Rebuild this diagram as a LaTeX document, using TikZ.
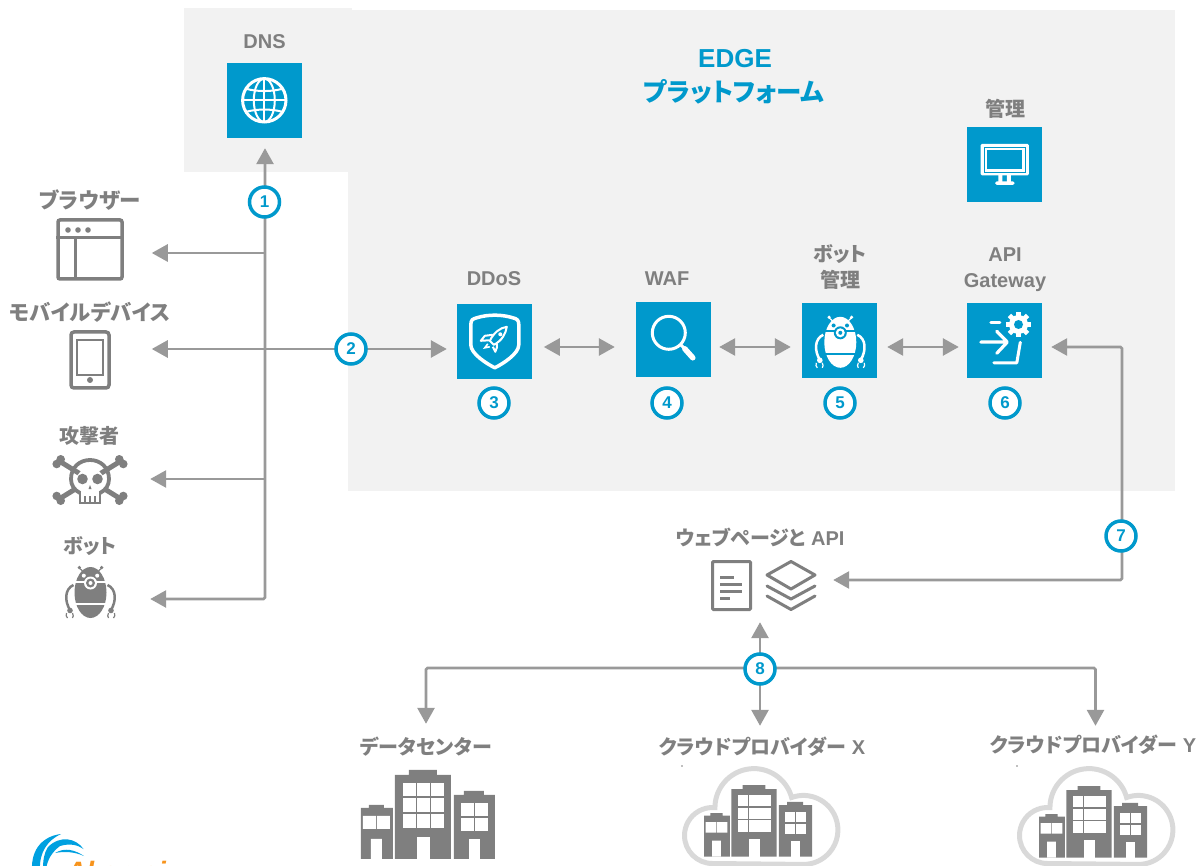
\documentclass[tikz,border=0pt]{standalone}
\usepackage{fontspec}
\setmainfont{Liberation Sans}
\newfontfamily\cjk[RawFeature=+palt]{Noto Sans CJK JP}
\usetikzlibrary{arrows.meta}
\definecolor{boxblue}{HTML}{0099CC}
\definecolor{ink}{HTML}{7F7F7F}
\definecolor{flowgrey}{HTML}{999999}
\definecolor{panelgrey}{HTML}{F2F2F2}
\definecolor{cloudgrey}{HTML}{D9D9D9}
\definecolor{logoblue}{HTML}{00A0E0}
\definecolor{logoorange}{HTML}{F7941D}
\tikzset{
  tip/.tip={Triangle[length=16pt,width=17pt]},
  flow/.style={draw=flowgrey,line width=2.8pt,-tip},
  bothways/.style={draw=flowgrey,line width=2.8pt,tip-tip},
  bluebox/.style={fill=boxblue,minimum size=75pt,inner sep=0pt},
  slot/.style 2 args={minimum width=#1,minimum height=#2,inner sep=0pt},
  numdot/.style={circle,draw=boxblue,fill=white,line width=3.5pt,minimum size=30pt,inner sep=0pt,
    text=boxblue,font=\bfseries\fontsize{17}{17}\selectfont},
  lbl/.style={text=ink,inner sep=0pt,align=center,font=\bfseries\fontsize{20}{26}\selectfont},
  jlbl/.style={lbl,font=\cjk\bfseries\fontsize{#1}{26}\selectfont},
  jlbl/.default=20,
  pics/towers/.style={code={
    \fill[ink] (0,38) -- (8,38) -- (8,35) -- (23,35) -- (23,38) -- (32,38) -- (32,89) -- (0,89) -- cycle;
    \fill[ink] (34,5) -- (48,5) -- (48,0) -- (76,0) -- (76,5) -- (90,5) -- (90,89) -- (34,89) -- cycle;
    \fill[ink] (93,25) -- (103,25) -- (103,21) -- (123,21) -- (123,25) -- (134,25) -- (134,89) -- (93,89) -- cycle;
    \fill[white] (2,46) rectangle (15,59) (16,46) rectangle (29,59) (10,69) rectangle (21,89);
    \foreach \wx in {42,56,70} \foreach \wy/\wh in {13/13,28/14,44/14}
      \fill[white] (\wx,\wy) rectangle ++(13,\wh);
    \fill[white] (56,67) rectangle (69,89);
    \foreach \wx in {100,114} \foreach \wy in {33,48}
      \fill[white] (\wx,\wy) rectangle ++(13,13);
    \fill[white] (108,69) rectangle (119,89);
  }},
  pics/cloudline/.style={code={
    \draw[cloudgrey,line width=5pt] (28,95) arc[start angle=90,end angle=275,radius=28]
      arc[start angle=180,end angle=345,radius=39]
      arc[start angle=250,end angle=450,radius=34.5] -- cycle;
  }},
  pics/botglyph/.style 2 args={code={
    \fill[#1] (38.5,39.5) ellipse [x radius=16,y radius=25.5];
    \draw[#2,line width=2pt] (21,28.5) -- (56,28.5);
    \draw[#2,line width=2.5pt] (21,51) -- (56,51);
    \foreach \sx in {-1,1} {
      \begin{scope}[shift={(38.5,0)},xscale=\sx]
        \fill[#2] (6.7,22.7) circle (2);
        \draw[#1,line width=1.2pt] (8,18) -- (11.2,15);
        \fill[#1] (11.2,14.5) circle (1.8);
        \draw[#1,line width=2.5pt] (17,32) .. controls (26,36) and (26,48) .. (20.5,57);
        \fill[#1] (20.5,57.5) circle (2.8);
        \draw[#1,line width=1.2pt] (24,60) .. controls (25,62) and (24,64) .. (23,65);
        \draw[#1,line width=1.2pt] (18,60) .. controls (17,62) and (17,64) .. (18,65);
      \end{scope}
    }
    \fill[#2] (38.5,30) circle (6.5);
    \fill[#1] (38.5,30) circle (4.5);
    \fill[#2] (38.5,30) circle (2);
  }},
  pics/globeglyph/.style={code={
    \draw[white,line width=3pt] (37.5,37.5) circle (21.7);
    \draw[white,line width=2pt] (37.5,37.5) ellipse [x radius=10.5,y radius=21.7];
    \draw[white,line width=2pt] (37.5,16) -- (37.5,59) (15.8,37.5) -- (59.2,37.5);
    \draw[white,line width=2pt] (19.5,26) .. controls (30,29) and (45,29) .. (55.5,26);
    \draw[white,line width=2pt] (19.5,49) .. controls (30,46) and (45,46) .. (55.5,49);
  }},
  pics/monitorglyph/.style={code={
    \fill[white,rounded corners=1.5pt] (13.7,17) rectangle (62,48.7);
    \draw[boxblue,line width=0.6pt] (17.4,20.3) rectangle (58,45.7);
    \fill[boxblue] (20.3,23.7) rectangle (55.3,42.3);
    \fill[white] (31.5,48) rectangle (35.5,55) (40,48) rectangle (44,55);
    \fill[white,rounded corners=1.5pt] (28.3,54.7) rectangle (47.7,58);
  }},
  pics/shieldglyph/.style={code={
    \draw[white,line width=3.5pt,line join=round] (14,21) .. controls (14,16) and (16,15) .. (20,14)
      .. controls (31,10.5) and (45,10.5) .. (56,14) .. controls (60,15) and (62,16) .. (62,21)
      -- (62,41) .. controls (62,50) and (46,60) .. (38,64) .. controls (30,60) and (14,50) .. (14,41) -- cycle;
    \draw[white,line width=2pt,line join=round] (50,23) .. controls (43,24) and (37,29) .. (33,37) -- (37,41)
      .. controls (45,37) and (49,30) .. (50,23) -- cycle;
    \draw[white,line width=2pt,line join=round] (36,31) -- (28,32) -- (24,37) -- (32,36.5);
    \draw[white,line width=2pt,line join=round] (40,39.5) -- (40,44) -- (38.5,48) -- (36,43);
    \draw[white,line width=1.6pt] (31,40) -- (28,44) -- (33,43);
    \fill[white] (43.5,30.5) circle (2);
  }},
  pics/lensglyph/.style={code={
    \draw[white,line width=3pt] (33,31) circle (16.5);
    \draw[white,line width=3pt] (44.7,42.7) -- (50,48);
    \draw[white,line width=5.5pt,line cap=round] (49,47) -- (57,56);
  }},
  pics/gateglyph/.style={code={
    \foreach \a in {0,45,...,315}
      \fill[white,shift={(51.7,21.7)},rotate=\a] (-2.4,-12.8) rectangle (2.4,-6);
    \fill[white] (51.7,21.7) circle (9.5);
    \fill[boxblue] (51.7,21.7) circle (4.5);
    \draw[white,line width=3.2pt,line cap=round,line join=round] (14,39.3) -- (39.5,39.3) (30,28.5) -- (40.5,39.3) -- (30,50.5);
    \draw[white,line width=3pt,line cap=round] (24,19.3) -- (33,19.3);
    \draw[white,line width=3pt,line cap=round,line join=round] (53.5,39.5) -- (50,60) -- (27,60);
  }},
  pics/skullglyph/.style={code={
    \foreach \sx in {-1,1} \foreach \sy in {-1,1} {
      \begin{scope}[xscale=\sx,yscale=\sy]
        \draw[ink,line width=5pt] (0,0) -- (-30,-18.5);
        \fill[ink] (-29.3,-20.7) circle (4.3) (-33.3,-16) circle (4.3);
      \end{scope}
    }
    \fill[white] (-18,2) -- (-11,13) -- (-11,23) -- (11,23) -- (11,13) -- (18,2) -- (0,-20) -- cycle;
    \draw[ink,line width=3.8pt] (-10,13) .. controls (-16,10) and (-19,5) .. (-19,-1)
      .. controls (-19,-13) and (-10,-20) .. (0,-20) .. controls (10,-20) and (19,-13) .. (19,-1)
      .. controls (19,5) and (16,10) .. (10,13);
    \fill[ink] (-7.5,-1) circle (5.3) (7.5,-1) circle (5.3);
    \fill[ink] (0,5) -- (-1.5,9) -- (1.5,9) -- cycle;
    \draw[ink,line width=2.5pt] (-10,12) -- (-10,23) -- (10,23) -- (10,12);
    \foreach \tx in {-5,0,5} \draw[ink,line width=2pt] (\tx,16) -- (\tx,23);
  }}
}
\begin{document}
\begin{tikzpicture}[x=1pt,y=-1pt]
\useasboundingbox (0,0) rectangle (1197,866);
% panels
\fill[panelgrey] (348,10) rectangle (1175,491);
\fill[panelgrey] (184,8) rectangle (352,172);
\node[text=boxblue,inner sep=0pt,font=\bfseries\fontsize{26}{26}\selectfont] (edgelbl) at (735,59) {EDGE};
\node[text=boxblue,inner sep=0pt,font=\cjk\bfseries\fontsize{25.5}{26}\selectfont] (platlbl) at (734,92) {プラットフォーム};
% blue boxes
\node[bluebox] (dns) at (264.5,100.5) {};
\node[bluebox] (mgmt) at (1004.5,164.5) {};
\node[bluebox] (ddos) at (494.5,341.5) {};
\node[bluebox] (waf) at (673.5,339.5) {};
\node[bluebox] (botmgr) at (839.5,340.5) {};
\node[bluebox] (apigw) at (1004.5,340.5) {};
\pic at (dns.north west) {globeglyph};
\pic at (mgmt.north west) {monitorglyph};
\pic at (ddos.north west) {shieldglyph};
\pic at (waf.north west) {lensglyph};
\pic at (botmgr.north west) {botglyph={white}{boxblue}};
\pic at (apigw.north west) {gateglyph};
\node[lbl] (dnslbl) at (264.5,42) {DNS};
\node[jlbl] (mgmtlbl) at (1005,109) {管理};
\node[lbl] (ddoslbl) at (494,279) {DDoS};
\node[lbl] (waflbl) at (667,279) {WAF};
\node[jlbl] (botmgrlbl) at (840,267) {ボット\\管理};
\node[lbl] (apigwlbl) at (1005,269.5) {API\\Gateway};
% clients on the left
\node[slot={64}{59},draw=ink,line width=3.5pt,rounded corners=2pt] (browser) at (90,249.5) {};
\draw[ink,line width=3pt] (browser.west |- 0,238) -- (browser.east |- 0,238) (75,238) -- (75,279);
\fill[ink] (68,230) circle (2.8) (78,230) circle (2.8) (88,230) circle (2.8);
\node[slot={38}{56},draw=ink,line width=3.5pt,rounded corners=3pt] (mobile) at (90,360) {};
\draw[ink,line width=2pt] (77,340) rectangle (103,375);
\fill[ink] (90,380) circle (3);
\node[slot={72}{48}] (attacker) at (90,480) {};
\pic at (attacker) {skullglyph};
\node[slot={50}{53}] (botleft) at (90,591.5) {};
\pic at (52,553) {botglyph={ink}{white}};
\node[jlbl=21.5] (browserlbl) at (90,200) {ブラウザー};
\node[jlbl=21.3] (mobilelbl) at (90,312) {モバイルデバイス};
\node[jlbl] (attackerlbl) at (89,436) {攻撃者};
\node[jlbl] (botlbl) at (90,546) {ボット};
% origin and clouds
\node[slot={106}{51}] (webpage) at (764,585.5) {};
\draw[ink,line width=3pt,rounded corners=1pt] (712.5,561.5) rectangle (750.5,609.5);
\draw[ink,line width=3pt] (720,577) -- (734,577) (720,584) -- (742,584) (720,591) -- (742,591) (720,598) -- (730,598);
\draw[ink,line width=3pt,line join=round] (791,561.5) -- (815,575) -- (791,589) -- (767,575) -- cycle;
\draw[ink,line width=3pt,line cap=round,line join=round] (767,586) -- (791,599) -- (815,586);
\draw[ink,line width=3pt,line cap=round,line join=round] (767,596) -- (791,609.5) -- (815,596);
\node[lbl] (webpagelbl) at (760,537) {{\cjk ウェブページと} API};
\node[slot={134}{89}] (dc) at (428,814.5) {};
\pic at (dc.north west) {towers};
\node[slot={158}{100}] (cloudx) at (761,816) {};
\pic at (684.5,768.5) {cloudline};
\pic[scale=0.806] at (704,785) {towers};
\node[slot={158}{100}] (cloudy) at (1095.5,816) {};
\pic at (1019.5,768.5) {cloudline};
\pic[scale=0.806] at (1039,786) {towers};
\node[jlbl] (dclbl) at (426,747) {データセンター};
\node[lbl] (cloudxlbl) at (762,747) {{\cjk クラウドプロバイダー} X};
\node[lbl] (cloudylbl) at (1093,745) {{\cjk クラウドプロバイダー} Y};
\fill[ink] (682,766) circle (0.9) (1017,766) circle (0.9);
% connectors
\coordinate (trunk) at (265,599);
\coordinate (rowy) at (0,347);
\coordinate (bendtop) at (1122,347);
\coordinate (bendlow) at (1122,580);
\coordinate (fork) at (760,668);
\draw[bothways,rounded corners=1.5pt] ([xshift=35,yshift=-7.5]botleft.east) -- (trunk) -- ([yshift=-10]dns.south -| trunk);
\draw[flow] ([yshift=-3.5]browser.east -| trunk) -- ([xshift=28,yshift=-3.5]browser.east);
\draw[flow] ([yshift=1]attacker.east -| trunk) -- ([xshift=24,yshift=1]attacker.east);
\draw[bothways] ([xshift=41,yshift=11]mobile.east) -- ([xshift=-10,yshift=-7.5]ddos.west);
\draw[bothways,shorten <=11.6pt,shorten >=21pt] (ddos.east |- rowy) -- (waf.west |- rowy);
\draw[bothways,shorten <=8pt,shorten >=11pt] (waf.east |- rowy) -- (botmgr.west |- rowy);
\draw[bothways,shorten <=10pt,shorten >=8pt] (botmgr.east |- rowy) -- (apigw.west |- rowy);
\draw[bothways,rounded corners=1.5pt] ([xshift=9]apigw.east |- rowy) -- (bendtop) -- (bendlow) -- ([xshift=16]webpage.east |- bendlow);
\draw[flow,shorten >=11pt] (fork) -- (fork |- webpage.south);
\draw[flow,shorten >=40pt] (fork) -- (fork |- cloudx.north);
\draw[flow,rounded corners=1.5pt,shorten >=46pt] (fork) -| ([xshift=-2]dc.north);
\draw[flow,rounded corners=1.5pt,shorten >=40pt] (fork) -| (cloudy.north);
% numbers
\node[numdot] (n1) at (264.5,202) {1};
\node[numdot] (n2) at (351,349) {2};
\node[numdot] (n3) at (494,403) {3};
\node[numdot] (n4) at (667,403) {4};
\node[numdot] (n5) at (840,403) {5};
\node[numdot] (n6) at (1005,403) {6};
\node[numdot] (n7) at (1121,536) {7};
\node[numdot] (n8) at (760,669) {8};
% logo, cut by the page
\begin{scope}
\clip (0,820) rectangle (250,866);
\fill[logoblue] (61,834) .. controls (44,836) and (31,848) .. (32,870) -- (40,870) .. controls (39,852) and (48,840) .. (61,834) -- cycle;
\fill[logoblue] (83.5,849) .. controls (76,838) and (60,835) .. (48,847) .. controls (44,853) and (43,860) .. (43,870) -- (46,870)
  .. controls (47,860) and (52,852) .. (60,846) .. controls (70,843) and (78,845) .. (83.5,849) -- cycle;
\fill[logoblue] (55,853) .. controls (65,847) and (75,850) .. (84,856) .. controls (75,852) and (65,851) .. (55,853) -- cycle;
\node[text=logoorange,anchor=base west,inner sep=0pt,font=\bfseries\itshape\fontsize{28}{28}\selectfont] (logo) at (66,881) {Akamai};
\end{scope}
\end{tikzpicture}
\end{document}
